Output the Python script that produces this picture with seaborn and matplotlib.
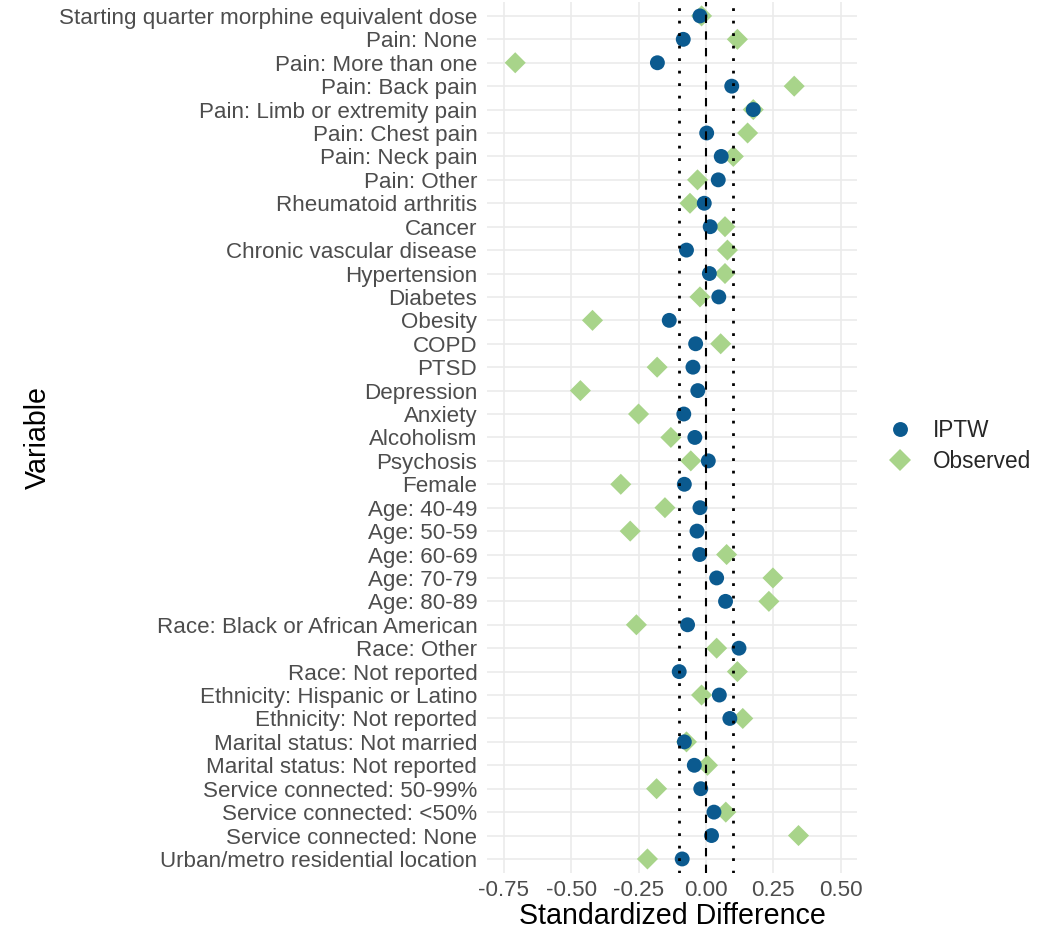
import matplotlib
matplotlib.use("Agg")
import matplotlib.pyplot as plt
import seaborn as sns
import pandas as pd

# Covariates, listed top to bottom
variables = [
    "Starting quarter morphine equivalent dose",
    "Pain: None",
    "Pain: More than one",
    "Pain: Back pain",
    "Pain: Limb or extremity pain",
    "Pain: Chest pain",
    "Pain: Neck pain",
    "Pain: Other",
    "Rheumatoid arthritis",
    "Cancer",
    "Chronic vascular disease",
    "Hypertension",
    "Diabetes",
    "Obesity",
    "COPD",
    "PTSD",
    "Depression",
    "Anxiety",
    "Alcoholism",
    "Psychosis",
    "Female",
    "Age: 40-49",
    "Age: 50-59",
    "Age: 60-69",
    "Age: 70-79",
    "Age: 80-89",
    "Race: Black or African American",
    "Race: Other",
    "Race: Not reported",
    "Ethnicity: Hispanic or Latino",
    "Ethnicity: Not reported",
    "Marital status: Not married",
    "Marital status: Not reported",
    "Service connected: 50-99%",
    "Service connected: <50%",
    "Service connected: None",
    "Urban/metro residential location",
]

# Standardized differences after weighting
iptw = [
    -0.022, -0.084, -0.180, 0.096, 0.176, 0.003, 0.057, 0.046, -0.006,
    0.016, -0.072, 0.013, 0.048, -0.136, -0.038, -0.048, -0.030, -0.082,
    -0.041, 0.009, -0.080, -0.022, -0.033, -0.023, 0.040, 0.073, -0.068,
    0.123, -0.099, 0.050, 0.089, -0.080, -0.043, -0.019, 0.030, 0.021,
    -0.088,
]

# Standardized differences in the unweighted cohort
observed = [
    -0.016, 0.117, -0.708, 0.328, 0.176, 0.155, 0.102, -0.031, -0.059,
    0.071, 0.080, 0.071, -0.022, -0.421, 0.055, -0.181, -0.466, -0.250,
    -0.130, -0.056, -0.316, -0.152, -0.281, 0.077, 0.249, 0.234, -0.258,
    0.040, 0.117, -0.016, 0.137, -0.072, 0.006, -0.183, 0.074, 0.344,
    -0.217,
]

groups = ["IPTW", "Observed"]
x_ticks = [-0.75, -0.50, -0.25, 0.00, 0.25, 0.50]
threshold = 0.1

# Observed rows first so the weighted points sit on top
df = pd.DataFrame({
    "Variable": variables + variables,
    "Standardized Difference": observed + iptw,
    "Group": ["Observed"] * len(variables) + ["IPTW"] * len(variables),
})

sns.set_theme(style="whitegrid")
plt.rcParams["font.family"] = ["Liberation Sans", "DejaVu Sans"]

fig = plt.figure(figsize=(10.43, 9.34), dpi=100)
ax = fig.add_axes([0.467, 0.0653, 0.355, 0.9327])

ax.grid(True, color="#EBEBEB", linewidth=1.2)
ax.set_axisbelow(True)

sns.scatterplot(
    data=df, x="Standardized Difference", y="Variable",
    hue="Group", style="Group", hue_order=groups, style_order=groups,
    palette={"IPTW": "#0B5A8F", "Observed": "#A8D48A"},
    markers={"IPTW": "o", "Observed": "D"},
    s=115, linewidth=0, ax=ax, zorder=3,
)

# Reference lines: no difference and the +/-0.1 balance threshold
ax.axvline(0, color="black", linestyle=(0, (4, 4)), linewidth=1.5, zorder=4)
ax.axvline(-threshold, color="black", linestyle=(0, (1, 3.5)), linewidth=2, zorder=4)
ax.axvline(threshold, color="black", linestyle=(0, (1, 3.5)), linewidth=2, zorder=4)

ax.set_xlim(-0.8125, 0.5625)
ax.set_ylim(len(variables) - 0.4, -0.6)
ax.set_xticks(x_ticks)
ax.set_xticklabels([f"{t:.2f}" for t in x_ticks])

for s in ax.spines.values():
    s.set_visible(False)
ax.tick_params(axis="both", length=0, labelsize=16.1, labelcolor="#4D4D4D")
ax.tick_params(axis="y", pad=7)
ax.tick_params(axis="x", pad=5)

ax.set_xlabel("Standardized Difference", fontsize=20.6, color="black", labelpad=1)
ax.set_ylabel("Variable", fontsize=20.6, color="black", labelpad=5)

sns.move_legend(
    ax, "center left", bbox_to_anchor=(1.0, 0.49), title=None,
    frameon=False, fontsize=16.3, handletextpad=0.45, labelspacing=0.35,
    markerscale=1.0,
)

fig.savefig("out.png", dpi=100, facecolor="white")
